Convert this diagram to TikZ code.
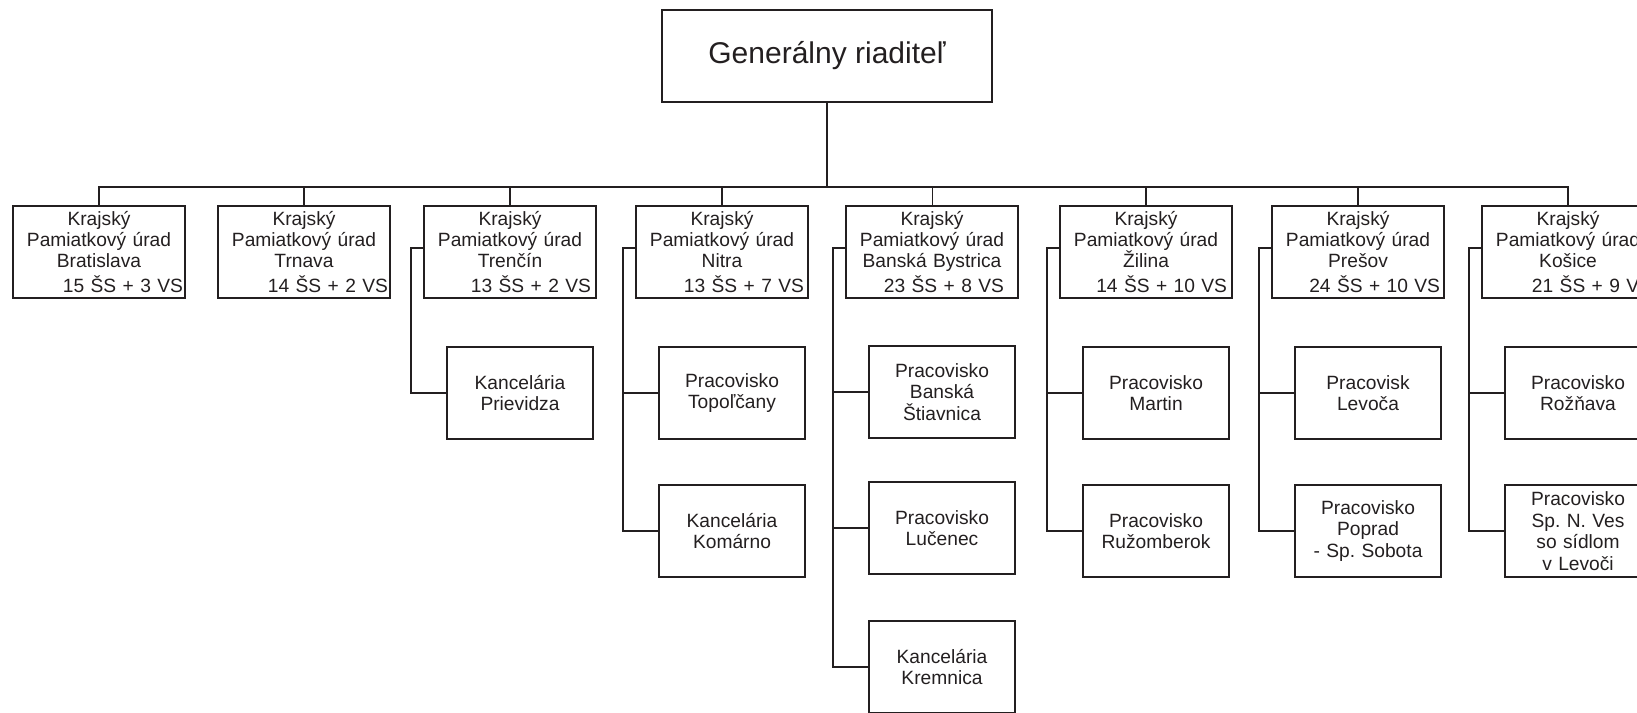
\documentclass[tikz,border=0pt]{standalone}
\usepackage{fontspec}
\setmainfont{Liberation Sans}
\definecolor{ink}{RGB}{35,31,32}
\frenchspacing

\tikzstyle{boss} = [draw=ink, line width=1.6pt, minimum width=330pt, minimum height=92pt, inner sep=0pt, font=\fontsize{30}{34}\selectfont]
\tikzstyle{office} = [draw=ink, line width=2.2pt, minimum width=172pt, minimum height=92pt, text width=168pt, inner sep=2pt, align=center, font=\fontsize{19.2}{21}\selectfont]
\tikzstyle{branch} = [draw=ink, line width=1.8pt, minimum width=146pt, minimum height=92pt, text width=142pt, inner sep=2pt, align=center, font=\fontsize{19.2}{21.5}\selectfont]
\tikzstyle{wire} = [draw=ink, line width=1.8pt]
\newcommand{\staff}[2][0pt]{\\[4pt]\makebox[\hsize][r]{#2\hspace*{#1}}}

\begin{document}
\begin{tikzpicture}[x=1pt,y=-1pt,color=ink]
	\useasboundingbox (0,0) rectangle (1637,712);
	\node[boss] (gr) at (827,56) {Generálny riaditeľ};
	% krajske urady
	\node[office] (ba) at (99,252) {Krajský\\Pamiatkový úrad\\Bratislava\staff{15 ŠS + 3 VS}};
	\node[office] (tt) at (304,252) {Krajský\\Pamiatkový úrad\\Trnava\staff{14 ŠS + 2 VS}};
	\node[office] (tn) at (510,252) {Krajský\\Pamiatkový úrad\\Trenčín\staff[3pt]{13 ŠS + 2 VS}};
	\node[office] (nr) at (722,252) {Krajský\\Pamiatkový úrad\\Nitra\staff[2pt]{13 ŠS + 7 VS}};
	\node[office] (bb) at (932,252) {Krajský\\Pamiatkový úrad\\Banská Bystrica\staff[12pt]{23 ŠS + 8 VS}};
	\node[office] (za) at (1146,252) {Krajský\\Pamiatkový úrad\\Žilina\staff[3pt]{14 ŠS + 10 VS}};
	\node[office] (po) at (1358,252) {Krajský\\Pamiatkový úrad\\Prešov\staff[2pt]{24 ŠS + 10 VS}};
	\node[office] (ke) at (1568,252) {Krajský\\Pamiatkový úrad\\Košice\staff{21 ŠS + 9 VS}};
	% pracoviska
	\node[branch] (tn1) at (520,393) {Kancelária\\Prievidza};
	\node[branch] (nr1) at (732,393) {Pracovisko\\Topoľčany};
	\node[branch] (nr2) at (732,531) {Kancelária\\Komárno};
	\node[branch] (bb1) at (942,392) {Pracovisko\\Banská\\Štiavnica};
	\node[branch] (bb2) at (942,528) {Pracovisko\\Lučenec};
	\node[branch] (bb3) at (942,667) {Kancelária\\Kremnica};
	\node[branch] (za1) at (1156,393) {Pracovisko\\Martin};
	\node[branch] (za2) at (1156,531) {Pracovisko\\Ružomberok};
	\node[branch] (po1) at (1368,393) {Pracovisk\\Levoča};
	\node[branch] (po2) at (1368,531) {Pracovisko\\Poprad\\- Sp. Sobota};
	\node[branch] (ke1) at (1578,393) {Pracovisko\\Rožňava};
	\node[branch] (ke2) at (1578,531) {Pracovisko\\Sp. N. Ves\\so sídlom\\v Levoči};
	% spojnice
	\coordinate (bus) at (827,187);
	\draw[wire] (gr.south) -- (bus);
	\draw[wire] (ba.north) |- (bus) -| (ke.north);
	\foreach \k in {tt,tn,nr,za,po}
		\draw[wire] (\k.north) -- (\k.north |- bus);
	\draw[wire, line width=0.9pt] (bb.north) -- (bb.north |- bus);
	\draw[wire] ([yshift=4pt]tn.west) -- ++(-12,0) |- (tn1.west);
	\draw[wire] ([yshift=4pt]nr.west) -- ++(-12,0) coordinate (nrs) |- (nr2.west);
	\draw[wire] (nrs |- nr1.west) -- (nr1.west);
	\draw[wire] ([yshift=4pt]bb.west) -- ++(-12,0) coordinate (bbs) |- (bb3.west);
	\draw[wire] (bbs |- bb1.west) -- (bb1.west);
	\draw[wire] (bbs |- bb2.west) -- (bb2.west);
	\draw[wire] ([yshift=4pt]za.west) -- ++(-12,0) coordinate (zas) |- (za2.west);
	\draw[wire] (zas |- za1.west) -- (za1.west);
	\draw[wire] ([yshift=4pt]po.west) -- ++(-12,0) coordinate (pos) |- (po2.west);
	\draw[wire] (pos |- po1.west) -- (po1.west);
	\draw[wire] ([yshift=4pt]ke.west) -- ++(-12,0) coordinate (kes) |- (ke2.west);
	\draw[wire] (kes |- ke1.west) -- (ke1.west);
\end{tikzpicture}
\end{document}
